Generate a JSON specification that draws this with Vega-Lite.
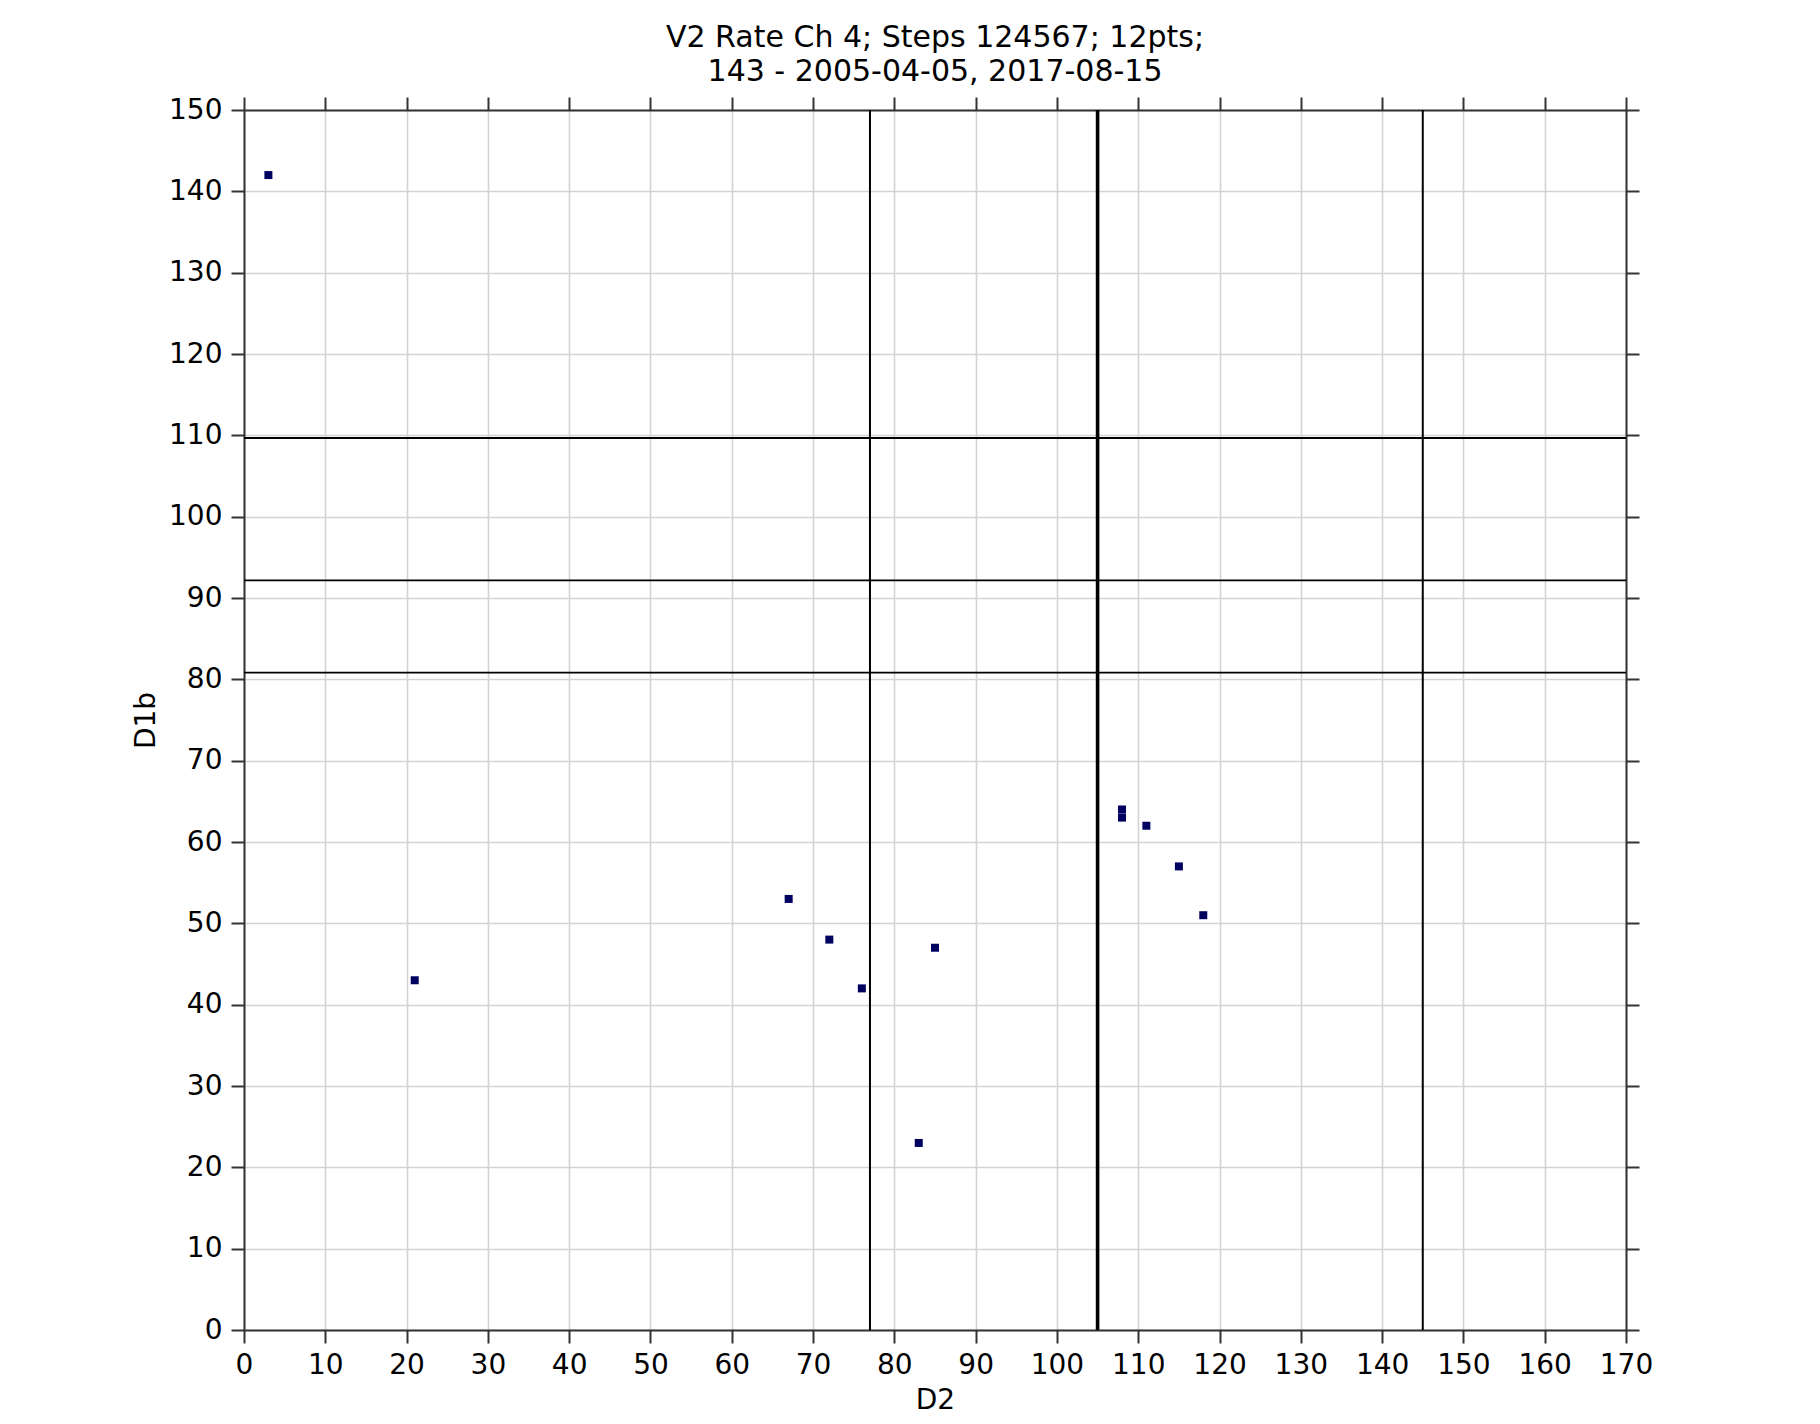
{
  "$schema": "https://vega.github.io/schema/vega-lite/v6.json",
  "width": 1382,
  "height": 1220,
  "autosize": {"type": "none"},
  "padding": {"left": 244, "top": 110, "right": 194, "bottom": 94},
  "background": "white",
  "title": {
    "text": ["V2 Rate Ch 4; Steps 124567; 12pts;", "143 - 2005-04-05, 2017-08-15"],
    "font": "DejaVu Sans",
    "fontSize": 30,
    "fontWeight": "normal",
    "color": "black",
    "lineHeight": 34,
    "baseline": "alphabetic",
    "offset": -15,
    "anchor": "middle"
  },
  "config": {
    "view": {"stroke": null},
    "axis": {
      "labelFont": "DejaVu Sans",
      "labelFontSize": 28,
      "labelColor": "black",
      "titleFont": "DejaVu Sans",
      "titleFontSize": 28,
      "titleFontWeight": "normal",
      "titleColor": "black",
      "domainColor": "#333333",
      "domainWidth": 2,
      "tickColor": "#333333",
      "tickWidth": 2,
      "tickSize": 13,
      "gridColor": "#d3d3d3",
      "gridWidth": 1.6,
      "gridOpacity": 1,
      "labelFlush": false,
      "labelOverlap": false
    }
  },
  "datasets": {
    "points": [
      {"D2": 3, "D1b": 142},
      {"D2": 21, "D1b": 43},
      {"D2": 67, "D1b": 53},
      {"D2": 72, "D1b": 48},
      {"D2": 76, "D1b": 42},
      {"D2": 83, "D1b": 23},
      {"D2": 85, "D1b": 47},
      {"D2": 108, "D1b": 64},
      {"D2": 108, "D1b": 63},
      {"D2": 111, "D1b": 62},
      {"D2": 115, "D1b": 57},
      {"D2": 118, "D1b": 51}
    ],
    "vthin": [{"D2": 77}, {"D2": 145}],
    "vthick": [{"D2": 105}],
    "hlines": [{"D1b": 109.67}, {"D1b": 92.17}, {"D1b": 80.83}]
  },
  "resolve": {"axis": {"x": "independent", "y": "independent"}},
  "layer": [
    {
      "data": {"name": "vthin"},
      "mark": {"type": "rule", "color": "black", "strokeWidth": 2},
      "encoding": {
        "x": {
          "field": "D2", "type": "quantitative",
          "scale": {"domain": [0, 170], "nice": false, "zero": false},
          "axis": {"orient": "top", "labels": false, "grid": false, "title": null,
                   "values": [0,10,20,30,40,50,60,70,80,90,100,110,120,130,140,150,160,170]}
        }
      }
    },
    {
      "data": {"name": "vthick"},
      "mark": {"type": "rule", "color": "black", "strokeWidth": 3.6},
      "encoding": {
        "x": {
          "field": "D2", "type": "quantitative",
          "scale": {"domain": [0, 170], "nice": false, "zero": false},
          "axis": null
        }
      }
    },
    {
      "data": {"name": "hlines"},
      "mark": {"type": "rule", "color": "black", "strokeWidth": 1.8},
      "encoding": {
        "y": {
          "field": "D1b", "type": "quantitative",
          "scale": {"domain": [0, 150], "nice": false, "zero": false},
          "axis": {"orient": "right", "labels": false, "grid": false, "title": null,
                   "values": [0,10,20,30,40,50,60,70,80,90,100,110,120,130,140,150]}
        }
      }
    },
    {
      "data": {"name": "points"},
      "mark": {"type": "point", "shape": "square", "filled": true, "size": 64, "color": "#000060", "opacity": 1, "strokeWidth": 0},
      "encoding": {
        "x": {
          "field": "D2", "type": "quantitative",
          "scale": {"domain": [0, 170], "nice": false, "zero": false},
          "axis": {"orient": "bottom", "title": "D2", "grid": true, "labelPadding": 8, "titlePadding": 7,
                   "values": [0,10,20,30,40,50,60,70,80,90,100,110,120,130,140,150,160,170]}
        },
        "y": {
          "field": "D1b", "type": "quantitative",
          "scale": {"domain": [0, 150], "nice": false, "zero": false},
          "axis": {"orient": "left", "title": "D1b", "grid": true, "labelPadding": 9, "titlePadding": 8,
                   "values": [0,10,20,30,40,50,60,70,80,90,100,110,120,130,140,150]}
        }
      }
    }
  ]
}
